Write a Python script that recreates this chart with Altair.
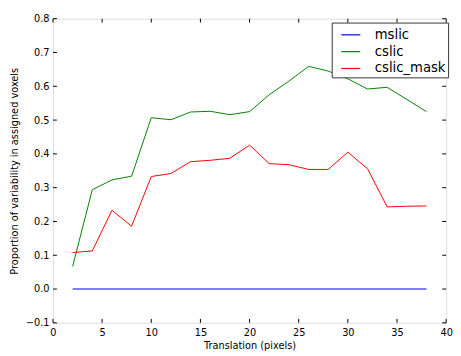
import altair as alt
import pandas as pd

translation = [2, 4, 6, 8, 10, 12, 14, 16, 18, 20, 22, 24, 26, 28, 30, 32, 34, 36, 38]
mslic = [0.0] * 19
cslic = [0.067, 0.294, 0.323, 0.334, 0.507, 0.501, 0.524, 0.526, 0.516, 0.525,
         0.575, 0.615, 0.659, 0.645, 0.622, 0.592, 0.597, 0.561, 0.525]
cslic_mask = [0.108, 0.113, 0.233, 0.186, 0.333, 0.342, 0.377, 0.381, 0.387, 0.426,
              0.371, 0.368, 0.354, 0.354, 0.405, 0.356, 0.243, 0.245, 0.246]

series_names = ["mslic", "cslic", "cslic_mask"]
series_colors = ["#0000ff", "#008000", "#ff0000"]
x_ticks = [0, 5, 10, 15, 20, 25, 30, 35, 40]
y_ticks = [-0.1, 0.0, 0.1, 0.2, 0.3, 0.4, 0.5, 0.6, 0.7, 0.8]

W, H = 402, 311

rows = []
for name, vals in zip(series_names, [mslic, cslic, cslic_mask]):
    for x, v in zip(translation, vals):
        rows.append({"x": x, "y": v, "series": name})
df = pd.DataFrame(rows)

xscale = alt.Scale(domain=[0, 40], nice=False, zero=False)
yscale = alt.Scale(domain=[-0.1, 0.8], nice=False, zero=False)

x_axis = alt.Axis(values=x_ticks, title="Translation (pixels)", ticks=False,
                  domain=False, grid=False, labelPadding=5, titlePadding=3,
                  labelFontSize=10, titleFontSize=10, labelFont="DejaVu Sans",
                  titleFont="DejaVu Sans", titleFontWeight="normal",
                  labelColor="black", titleColor="black", labelFlush=False,
                  labelOverlap=False)
y_axis = alt.Axis(values=y_ticks, title="Proportion of variability in assigned voxels",
                  ticks=False, domain=False, grid=False, labelPadding=4,
                  titlePadding=6, labelFontSize=10, titleFontSize=10,
                  labelFont="DejaVu Sans", titleFont="DejaVu Sans",
                  titleFontWeight="normal", labelColor="black", titleColor="black",
                  labelFlush=False, labelOverlap=False,
                  labelExpr="replace(format(datum.value, '.1f'), '-', '\u2212')")

lines = alt.Chart(df).mark_line(clip=True).encode(
    x=alt.X("x:Q", scale=xscale, axis=x_axis),
    y=alt.Y("y:Q", scale=yscale, axis=y_axis),
    color=alt.Color("series:N",
                    scale=alt.Scale(domain=series_names, range=series_colors),
                    sort=series_names,
                    legend=alt.Legend(title=None, orient="none", legendX=285, legendY=4,
                                      symbolType="stroke", symbolSize=380, symbolOffset=7,
                                      symbolStrokeWidth=1.2, labelFontSize=13.5,
                                      labelFont="DejaVu Sans", labelColor="black",
                                      labelOffset=14, rowPadding=0.2, padding=2,
                                      strokeColor="#333333", fillColor="white",
                                      cornerRadius=0)),
    strokeWidth=alt.condition("datum.series == 'mslic'", alt.value(2), alt.value(1)),
    strokeOpacity=alt.condition("datum.series == 'mslic'", alt.value(0.5), alt.value(1)),
    detail="series:N",
)

xt = pd.DataFrame({"x": x_ticks})
yt = pd.DataFrame({"y": y_ticks})

xb = alt.Chart(xt).mark_rule(color="black", strokeWidth=1).encode(
    x=alt.X("x:Q", scale=xscale, axis=x_axis), y=alt.value(H), y2=alt.value(H - 4))
xtp = alt.Chart(xt).mark_rule(color="black", strokeWidth=1).encode(
    x=alt.X("x:Q", scale=xscale, axis=x_axis), y=alt.value(0), y2=alt.value(4))
yl = alt.Chart(yt).mark_rule(color="black", strokeWidth=1).encode(
    y=alt.Y("y:Q", scale=yscale, axis=y_axis), x=alt.value(0), x2=alt.value(4))
yr = alt.Chart(yt).mark_rule(color="black", strokeWidth=1).encode(
    y=alt.Y("y:Q", scale=yscale, axis=y_axis), x=alt.value(W - 4), x2=alt.value(W))

chart = alt.layer(lines, xb, xtp, yl, yr).properties(
    width=W, height=H,
    padding={"left": 46, "top": 7, "right": 7, "bottom": 32},
    autosize=alt.AutoSizeParams(type="none"),
).configure_view(stroke="black", strokeWidth=1).configure(background="white")

chart.save("out.html", embed_options={"renderer": "svg", "actions": False})
